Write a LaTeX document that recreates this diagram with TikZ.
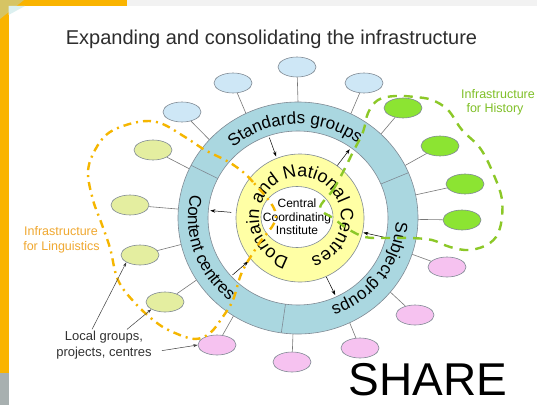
\documentclass[tikz,border=0pt]{standalone}
\usepackage{fontspec}
\setmainfont{Liberation Sans}
\usetikzlibrary{shapes.geometric,arrows.meta,decorations.text,calc}
\definecolor{amber}{RGB}{250,180,0}
\definecolor{khaki}{RGB}{214,196,100}
\definecolor{paleCyan}{RGB}{220,240,240}
\definecolor{barGray}{RGB}{168,176,176}
\definecolor{ringBlue}{RGB}{170,215,224}
\definecolor{satBlue}{RGB}{206,231,246}
\definecolor{satGreen}{RGB}{140,228,50}
\definecolor{satLime}{RGB}{228,238,160}
\definecolor{satPink}{RGB}{246,194,240}
\definecolor{ringYellow}{RGB}{255,255,165}
\definecolor{edgeGray}{RGB}{128,138,148}
\definecolor{connGray}{RGB}{120,120,120}
\definecolor{dashGreen}{RGB}{140,200,40}
\definecolor{dashOrange}{RGB}{245,182,0}
\definecolor{txtGreen}{RGB}{128,192,40}
\definecolor{txtOrange}{RGB}{240,168,48}
\definecolor{titleGray}{RGB}{45,45,45}
\newcommand\ringfont{\fontsize{17}{17}\selectfont}
\newcommand\yelfont{\fontsize{18}{18}\selectfont}
\tikzset{
  sat/.style={ellipse, draw=edgeGray, line width=0.6pt, minimum width=38pt, minimum height=20pt, inner sep=0pt},
  sblue/.style={sat, fill=satBlue},
  sgreen/.style={sat, fill=satGreen},
  slime/.style={sat, fill=satLime},
  spink/.style={sat, fill=satPink},
  conn/.style={draw=connGray, line width=0.6pt},
  divline/.style={draw=edgeGray, line width=0.6pt},
  ringarrow/.style={draw=black, line width=0.5pt, -{Stealth[length=5pt,width=3.5pt]}},
  ptr/.style={draw=black!75, line width=0.5pt, -{Stealth[length=4.5pt,width=3pt]}},
  lbl/.style={inner sep=0pt, anchor=base},
  histline/.style={draw=dashGreen, line width=2.4pt, dash pattern=on 9pt off 7pt},
  lingline/.style={draw=dashOrange, line width=2.4pt, dash pattern=on 8pt off 5pt on 2pt off 5pt},
}
\begin{document}
\begin{tikzpicture}[x=1pt,y=1pt]
\useasboundingbox (0,0) rectangle (537,405);
\fill[white] (0,0) rectangle (537,405);
% frame decorations
\fill[amber] (0,32) rectangle (8.5,405);
\fill[amber] (0,399) rectangle (127,405);
\fill[khaki] (0,405) -- (24,405) -- (0,386) -- cycle;
\fill[paleCyan] (8.5,399) -- (25,399) -- (8.5,390) -- cycle;
\fill[barGray] (0,0) rectangle (8.5,32);
\fill[black!5] (127,399) rectangle (537,405);

% centres
\coordinate (c) at (298,187);
\coordinate (yc) at (300,187);
\coordinate (ic) at (297,188);

% satellites
\node[sblue] (b1) at (182,293) {};
\node[sblue] (b2) at (233,322) {};
\node[sblue] (b3) at (297,338) {};
\node[sblue] (b4) at (364,322) {};
\node[sgreen] (g1) at (403,297) {};
\node[sgreen] (g2) at (440,259) {};
\node[sgreen] (g3) at (465,221) {};
\node[sgreen] (g4) at (462,185) {};
\node[spink] (p1) at (447,138) {};
\node[spink] (p2) at (415,90) {};
\node[spink] (p3) at (360,57) {};
\node[spink] (p4) at (292,43) {};
\node[spink] (p5) at (217,60) {};
\node[slime] (l1) at (165,103) {};
\node[slime] (l2) at (140,150) {};
\node[slime] (l3) at (130,200) {};
\node[slime] (l4) at (153,255) {};

% ring points for connectors
\foreach \n/\a in {b1/137.6,b2/115.7,b3/90,b4/63.9,g1/46.3,g2/26.9,g3/11.5,g4/-0.7,p1/-18.2,p2/-39.7,p3/-64.5,p4/-92.4,p5/-122.5,l1/-147.7,l2/-166.8,l3/175.6,l4/154.9}{
  \coordinate (r\n) at ($(c)+(\a:120 and 116)$);
}
\foreach \n in {b1,b2,b3,b4,g1,g2,g3,g4,p1,p2,p3,p4,p5,l1,l2,l3,l4}{
  \draw[conn] (\n) -- (r\n);
}

% blue ring
\fill[ringBlue, even odd rule] (c) ellipse [x radius=120, y radius=116] (c) ellipse [x radius=90, y radius=87];
\draw[edgeGray, line width=0.6pt] (c) ellipse [x radius=120, y radius=116];
\draw[edgeGray, line width=0.6pt] (c) ellipse [x radius=90, y radius=87];
\foreach \i/\a in {1/153,2/23,3/-98}{
  \coordinate (di\i) at ($(c)+(\a:90 and 87)$);
  \coordinate (do\i) at ($(c)+(\a:120 and 116)$);
  \draw[divline] (di\i) -- (do\i);
}

% yellow ring and centre
\fill[ringYellow] (yc) circle [radius=64];
\draw[edgeGray, line width=0.6pt] (yc) circle [radius=64];
\node[ellipse, draw=edgeGray, fill=white, line width=0.6pt, minimum width=72pt, minimum height=61pt, inner sep=0pt] (cci) at (ic) {};
\node[align=center, font=\fontsize{12}{13.5}\selectfont, inner sep=0pt] (ccitxt) at (ic) {Central\\Coordinating\\Institute};

% arrows between yellow and blue rings
\foreach \i/\a in {1/109,2/54,3/-13,4/-65,5/-138,6/175}{
  \coordinate (ya\i) at ($(c)+(\a:67 and 65)$);
  \coordinate (ba\i) at ($(c)+(\a:88 and 85)$);
}
\draw[ringarrow] (ba1) -- (ya1);
\draw[ringarrow] (ya2) -- (ba2);
\draw[ringarrow] (ba3) -- (ya3);
\draw[ringarrow] (ya4) -- (ba4);
\draw[ringarrow] (ba5) -- (ya5);
\draw[ringarrow] (ya6) -- (ba6);

% curved texts
\path[decorate, decoration={text along path, text={|\ringfont|Standards groups}, text align=center}]
  ($(c)+(152:98 and 94)$) arc[start angle=152, end angle=32, x radius=98, y radius=94];
\path[decorate, decoration={text along path, text={|\ringfont|Subject groups}, text align=center}]
  ($(c)+(14:98 and 94)$) arc[start angle=14, end angle=-86, x radius=98, y radius=94];
\path[decorate, decoration={text along path, text={|\ringfont|Content centres}, text align=center}]
  ($(c)+(149:110 and 106)$) arc[start angle=149, end angle=249, x radius=110, y radius=106];
\path[decorate, decoration={text along path, text={|\yelfont|Domain and National Centres}, text align=center}]
  ($(yc)+(265:41)$) arc[start angle=265, end angle=-85, radius=41];

% infrastructure boundaries
\draw[lingline] plot[smooth cycle, tension=0.6] coordinates {
  (276,190) (253,223) (232,241) (205,255) (185,268) (160,282) (138,283) (110,273)
  (95,255) (88,233) (93,205) (101,183) (110,157) (118,125) (135,102) (157,82)
  (175,72) (195,66) (210,72) (222,87) (233,105) (242,133) (258,160)};
\draw[histline] plot[smooth cycle, tension=0.6] coordinates {
  (320,197) (333,215) (343,233) (353,253) (363,273) (368,292) (378,305) (395,309)
  (415,308) (432,305) (448,295) (462,275) (480,257) (493,232) (502,205) (500,177)
  (490,162) (470,155) (450,158) (432,165) (410,167) (385,167) (365,168) (348,176) (333,187)};

% labels
\node[lbl, font=\fontsize{20}{20}\selectfont, text=titleGray] (title) at (271.5,360) {Expanding and consolidating the infrastructure};
\node[lbl, font=\fontsize{12.5}{12.5}\selectfont, text=txtGreen] (hist1) at (498,306) {Infrastructure};
\node[lbl, font=\fontsize{12.5}{12.5}\selectfont, text=txtGreen] (hist2) at (495,292) {for History};
\node[lbl, font=\fontsize{12.5}{12.5}\selectfont, text=txtOrange] (ling1) at (61,170) {Infrastructure};
\node[lbl, font=\fontsize{12.5}{12.5}\selectfont, text=txtOrange] (ling2) at (61.5,155) {for Linguistics};
\node[lbl, font=\fontsize{13}{13}\selectfont, text=black!80] (loc1) at (104,65) {Local groups,};
\node[lbl, font=\fontsize{13}{13}\selectfont, text=black!80] (loc2) at (104,49) {projects, centres};
\node[lbl, font=\fontsize{46}{46}\selectfont] (share) at (428,10) {SHARE};

% pointers from the local groups label
\coordinate (pa) at ($(loc1.north)+(-12,1)$);
\coordinate (pb) at ($(loc1.north)+(23,1)$);
\coordinate (pc) at ($(loc2.east)+(10,2)$);
\draw[ptr] (pa) -- (l2.south west);
\draw[ptr] (pb) -- (l1.south west);
\draw[ptr] (pc) -- (p5.west);
\end{tikzpicture}
\end{document}
